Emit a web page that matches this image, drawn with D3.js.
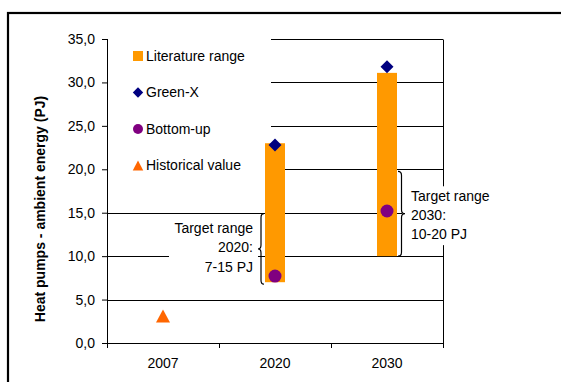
<!DOCTYPE html>
<html>
<head>
<meta charset="utf-8">
<script src="https://cdn.jsdelivr.net/npm/d3@7"></script>
<style>
  html, body { margin: 0; padding: 0; background: #fff; }
  svg { display: block; font-family: "Liberation Sans", Arial, sans-serif; }
</style>
</head>
<body>
<svg id="chart" width="561" height="382"></svg>
<script>
// Categories and series (PJ)
const years = ["2007", "2020", "2030"];
const literatureLow = [null, 7.0, 10.0];
const literatureHigh = [null, 23.0, 31.1];
const greenX = [null, 22.8, 31.8];
const bottomUp = [null, 7.7, 15.2];
const historical = [3.1, null, null];
const yTicks = [0, 5, 10, 15, 20, 25, 30, 35];
const targetRanges = [
  { year: "2020", low: 7, high: 15, lines: ["Target range", "2020:", "7-15 PJ"], side: "left" },
  { year: "2030", low: 10, high: 20, lines: ["Target range", "2030:", "10-20 PJ"], side: "right" }
];
const legendItems = ["Literature range", "Green-X", "Bottom-up", "Historical value"];
const yTitle = "Heat pumps - ambient energy (PJ)";

const colors = { bar: "#FF9900", diamond: "#000080", circle: "#800080", triangle: "#FF6600" };

const svg = d3.select("#chart");
const plot = { left: 107, right: 443, top: 39, bottom: 343 };

const x = d3.scaleBand().domain(years).range([plot.left, plot.right]).padding(0);
const y = d3.scaleLinear().domain([0, 35]).range([plot.bottom, plot.top]);
const commaFmt = d3.formatLocale({ decimal: ",", thousands: ".", grouping: [3], currency: ["", ""] }).format(".1f");
const barW = 20;
const cxOf = yr => x(yr) + x.bandwidth() / 2;

// Layers, bottom to top
const gGrid = svg.append("g");
const gPanels = svg.append("g");
const gBars = svg.append("g");
const gMarks = svg.append("g");
const gAxes = svg.append("g");
const gNotes = svg.append("g");

// Outer chart frame
svg.append("rect")
  .attr("x", 8).attr("y", 13).attr("width", 620).attr("height", 420)
  .attr("fill", "none").attr("stroke", "#000").attr("stroke-width", 2.2);

// Horizontal gridlines
gGrid.selectAll("line.grid").data(yTicks.filter(d => d > 0)).join("line")
  .attr("class", "grid")
  .attr("x1", plot.left).attr("x2", plot.right)
  .attr("y1", d => Math.round(y(d)) + 0.5).attr("y2", d => Math.round(y(d)) + 0.5)
  .attr("stroke", "#000").attr("stroke-width", 1);

// Right edge of the plot area
gGrid.append("line")
  .attr("x1", plot.right + 0.5).attr("x2", plot.right + 0.5)
  .attr("y1", Math.round(y(35)) + 0.5).attr("y2", plot.bottom)
  .attr("stroke", "#000");

// White panels behind legend and annotations
gPanels.append("rect").attr("x", plot.left + 1).attr("y", 30).attr("width", 163).attr("height", 158).attr("fill", "#fff");

// Literature range bars
const barData = years.map((yr, i) => ({ yr, lo: literatureLow[i], hi: literatureHigh[i] })).filter(d => d.lo != null);
gBars.selectAll("rect").data(barData).join("rect")
  .attr("x", d => cxOf(d.yr) - barW / 2)
  .attr("width", barW)
  .attr("y", d => y(d.hi))
  .attr("height", d => y(d.lo) - y(d.hi))
  .attr("fill", colors.bar);

// Marker shapes
const diamond = (r) => `M0,${-r}L${r},0L0,${r}L${-r},0Z`;
const triangle = (w, h) => `M0,${-h / 2}L${w / 2},${h / 2}L${-w / 2},${h / 2}Z`;

// Green-X diamonds
gMarks.selectAll("path.gx").data(years.map((yr, i) => ({ yr, v: greenX[i] })).filter(d => d.v != null)).join("path")
  .attr("class", "gx")
  .attr("transform", d => `translate(${cxOf(d.yr)},${y(d.v)})`)
  .attr("d", diamond(6.5)).attr("fill", colors.diamond);

// Bottom-up circles
gMarks.selectAll("circle").data(years.map((yr, i) => ({ yr, v: bottomUp[i] })).filter(d => d.v != null)).join("circle")
  .attr("cx", d => cxOf(d.yr)).attr("cy", d => y(d.v)).attr("r", 6.5)
  .attr("fill", colors.circle);

// Historical value triangle
gMarks.selectAll("path.hist").data(years.map((yr, i) => ({ yr, v: historical[i] })).filter(d => d.v != null)).join("path")
  .attr("class", "hist")
  .attr("transform", d => `translate(${cxOf(d.yr)},${y(d.v)})`)
  .attr("d", triangle(14, 13)).attr("fill", colors.triangle);

// Legend
const legY = [56, 92.5, 129, 165.5];
const legX = 138;
gNotes.append("rect").attr("x", legX - 5).attr("y", legY[0] - 5).attr("width", 10).attr("height", 10).attr("fill", colors.bar);
gNotes.append("path").attr("transform", `translate(${legX},${legY[1]})`).attr("d", diamond(5.2)).attr("fill", colors.diamond);
gNotes.append("circle").attr("cx", legX).attr("cy", legY[2]).attr("r", 5).attr("fill", colors.circle);
gNotes.append("path").attr("transform", `translate(${legX},${legY[3]})`).attr("d", triangle(10.5, 10)).attr("fill", colors.triangle);
gNotes.selectAll("text.leg").data(legendItems).join("text")
  .attr("class", "leg")
  .attr("x", legX + 8).attr("y", (d, i) => legY[i]).attr("dy", "0.35em")
  .attr("font-size", 14).attr("fill", "#000").text(d => d);

// Axes
const yAxis = gAxes.append("g").attr("transform", `translate(${plot.left},0)`)
  .call(d3.axisLeft(y).tickValues(yTicks).tickFormat(commaFmt).tickSize(5).tickPadding(7));
const xAxis = gAxes.append("g").attr("transform", `translate(0,${plot.bottom})`)
  .call(d3.axisBottom(x).tickSize(0).tickPadding(15));
// Category separators on the x axis
xAxis.selectAll(".sep").data([plot.left, x("2020"), x("2030"), plot.right]).join("line")
  .attr("class", "sep").attr("x1", d => d + 0.5).attr("x2", d => d + 0.5)
  .attr("y1", 0).attr("y2", 5).attr("stroke", "#000");
[yAxis, xAxis].forEach(g => {
  g.selectAll("text").attr("font-size", 14).attr("font-family", "Liberation Sans, Arial, sans-serif").attr("fill", "#000");
  g.select(".domain").attr("stroke", "#000");
  g.selectAll(".tick line").attr("stroke", "#000");
});
xAxis.select(".domain").attr("d", `M${plot.left},0.5H${plot.right + 0.5}`);

// Y axis title
gAxes.append("text")
  .attr("transform", `translate(45,${(plot.top + plot.bottom) / 2 + 18}) rotate(-90)`)
  .attr("text-anchor", "middle").attr("font-size", 14).attr("font-weight", "bold")
  .attr("fill", "#000").text(yTitle);

// Target range annotations with braces
function bracePath(xs, y0, y1, w, dir) {
  // dir = -1: tip points left, +1: tip points right; xs = straight side
  const ym = (y0 + y1) / 2, r = 4, xm = xs + dir * w / 2, xt = xs + dir * w;
  return `M${xs},${y0}Q${xm},${y0} ${xm},${y0 + r}L${xm},${ym - r}Q${xm},${ym} ${xt},${ym}` +
         `Q${xm},${ym} ${xm},${ym + r}L${xm},${y1 - r}Q${xm},${y1} ${xs},${y1}`;
}
targetRanges.forEach(t => {
  const cx = cxOf(t.year);
  const yTop = y(t.high), yBot = y(t.low), yMid = (yTop + yBot) / 2;
  if (t.side === "left") {
    const xs = cx - barW / 2 - 1;
    gPanels.append("rect").attr("x", xs - 95).attr("y", yTop + 5).attr("width", 89).attr("height", yBot - yTop - 2).attr("fill", "#fff");
    gNotes.append("path").attr("d", bracePath(xs, yTop + 1, yBot + 2, 6, -1)).attr("fill", "none").attr("stroke", "#000").attr("stroke-width", 1.2);
    gNotes.append("text").attr("text-anchor", "end").attr("font-size", 14).attr("fill", "#000")
      .selectAll("tspan").data(t.lines).join("tspan")
      .attr("x", xs - 11).attr("y", (d, i) => yMid - 19.5 + i * 19.5).attr("dy", "0.35em").text(d => d);
  } else {
    const xs = cx + barW / 2 + 1;
    gPanels.append("rect").attr("x", xs + 4).attr("y", yTop + 17).attr("width", 100).attr("height", yBot - yTop - 28).attr("fill", "#fff");
    gNotes.append("path").attr("d", bracePath(xs, yTop + 2, yBot, 7, 1)).attr("fill", "none").attr("stroke", "#000").attr("stroke-width", 1.2);
    gNotes.append("text").attr("text-anchor", "start").attr("font-size", 14).attr("fill", "#000")
      .selectAll("tspan").data(t.lines).join("tspan")
      .attr("x", xs + 13).attr("y", (d, i) => yMid - 16.5 + i * 19).attr("dy", "0.35em").text(d => d);
  }
});
</script>
</body>
</html>
